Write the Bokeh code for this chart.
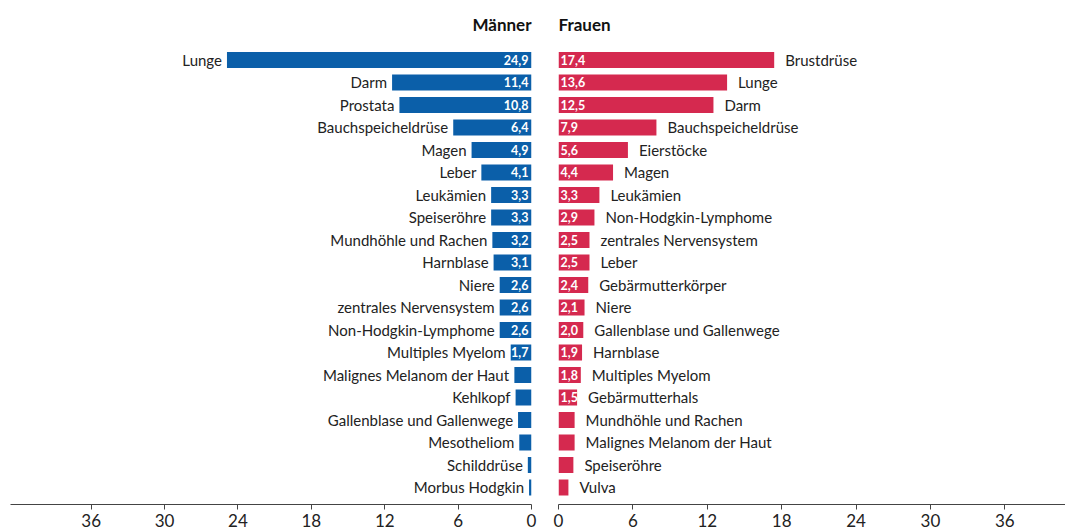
from bokeh.plotting import figure
from bokeh.layouts import row
from bokeh.models import ColumnDataSource, Range1d, FixedTicker
from bokeh.core.properties import value
from bokeh.embed import file_html
from bokeh.resources import INLINE

men_categories = ["Lunge", "Darm", "Prostata", "Bauchspeicheldrüse", "Magen", "Leber",
                  "Leukämien", "Speiseröhre", "Mundhöhle und Rachen", "Harnblase", "Niere",
                  "zentrales Nervensystem", "Non-Hodgkin-Lymphome", "Multiples Myelom",
                  "Malignes Melanom der Haut", "Kehlkopf", "Gallenblase und Gallenwege",
                  "Mesotheliom", "Schilddrüse", "Morbus Hodgkin"]
men_values = [24.9, 11.4, 10.8, 6.4, 4.9, 4.1, 3.3, 3.3, 3.2, 3.1, 2.6, 2.6, 2.6, 1.7,
              1.4, 1.3, 1.1, 1.0, 0.3, 0.2]

women_categories = ["Brustdrüse", "Lunge", "Darm", "Bauchspeicheldrüse", "Eierstöcke", "Magen",
                    "Leukämien", "Non-Hodgkin-Lymphome", "zentrales Nervensystem", "Leber",
                    "Gebärmutterkörper", "Niere", "Gallenblase und Gallenwege", "Harnblase",
                    "Multiples Myelom", "Gebärmutterhals", "Mundhöhle und Rachen",
                    "Malignes Melanom der Haut", "Speiseröhre", "Vulva"]
women_values = [17.4, 13.6, 12.5, 7.9, 5.6, 4.4, 3.3, 2.9, 2.5, 2.5, 2.4, 2.1, 2.0, 1.9,
                1.8, 1.5, 1.3, 1.3, 1.2, 0.8]

tick_values = [0, 6, 12, 18, 24, 30, 36]

BLUE = "#0b5fa9"
RED = "#d5294f"
FONT = "Lato"
TXT = "#222222"


def fmt(v):
    return ("%.1f" % v).replace(".", ",") if v >= 1.5 else ""


def make_source(cats, vals):
    return ColumnDataSource(dict(
        y=list(range(len(cats))),
        cat=cats,
        val=vals,
        zero=[0] * len(vals),
        lab=[fmt(v) for v in vals],
    ))


def style(p, title_align):
    p.title.text_font = FONT
    p.title.text_font_size = "17px"
    p.title.text_font_style = "bold"
    p.title.text_color = "#111111"
    p.title.align = title_align
    p.title.standoff = 23
    p.xgrid.visible = False
    p.ygrid.visible = False
    p.outline_line_color = None
    ax = p.xaxis[0]
    ax.ticker = FixedTicker(ticks=tick_values)
    ax.axis_line_color = "#444444"
    ax.axis_line_width = 1.2
    ax.major_tick_line_color = "#444444"
    ax.major_tick_out = 5
    ax.major_tick_in = 0
    ax.minor_tick_line_color = None
    ax.major_label_text_font = FONT
    ax.major_label_text_font_size = "17px"
    ax.major_label_text_color = "#222222"
    ax.major_label_standoff = 4


FH = 458
TOP = 45
BOT = 28

left = figure(title="Männer", frame_width=521, frame_height=FH,
              min_border_left=10, min_border_right=13, min_border_top=TOP, min_border_bottom=BOT,
              x_range=Range1d(start=42.6, end=0), y_range=Range1d(start=19.76, end=-0.6),
              y_axis_location=None, toolbar_location=None, output_backend="svg")
style(left, "right")
src_m = make_source(men_categories, men_values)
left.hbar(y="y", left="zero", right="val", height=0.71, source=src_m,
          fill_color=BLUE, line_color=None)
left.text(x="zero", y="y", text="lab", source=src_m, x_offset=-3,
          text_align="right", text_baseline="middle", text_color="white",
          text_font=value(FONT), text_font_size="12.5px", text_font_style="bold")
left.text(x="val", y="y", text="cat", source=src_m, x_offset=-5,
          text_align="right", text_baseline="middle", text_color=TXT,
          text_font=value(FONT), text_font_size="15px")

right = figure(title="Frauen", frame_width=507, frame_height=FH,
               min_border_left=14, min_border_right=0, min_border_top=TOP, min_border_bottom=BOT,
               x_range=Range1d(start=0, end=40.9), y_range=Range1d(start=19.76, end=-0.6),
               y_axis_location=None, toolbar_location=None, output_backend="svg")
style(right, "left")
src_w = make_source(women_categories, women_values)
right.hbar(y="y", left="zero", right="val", height=0.71, source=src_w,
           fill_color=RED, line_color=None)
right.text(x="zero", y="y", text="lab", source=src_w, x_offset=2,
           text_align="left", text_baseline="middle", text_color="white",
           text_font=value(FONT), text_font_size="12.5px", text_font_style="bold")
right.text(x="val", y="y", text="cat", source=src_w, x_offset=11,
           text_align="left", text_baseline="middle", text_color=TXT,
           text_font=value(FONT), text_font_size="15px")

layout = row(left, right)
open("out.html", "w").write(file_html(layout, INLINE))
